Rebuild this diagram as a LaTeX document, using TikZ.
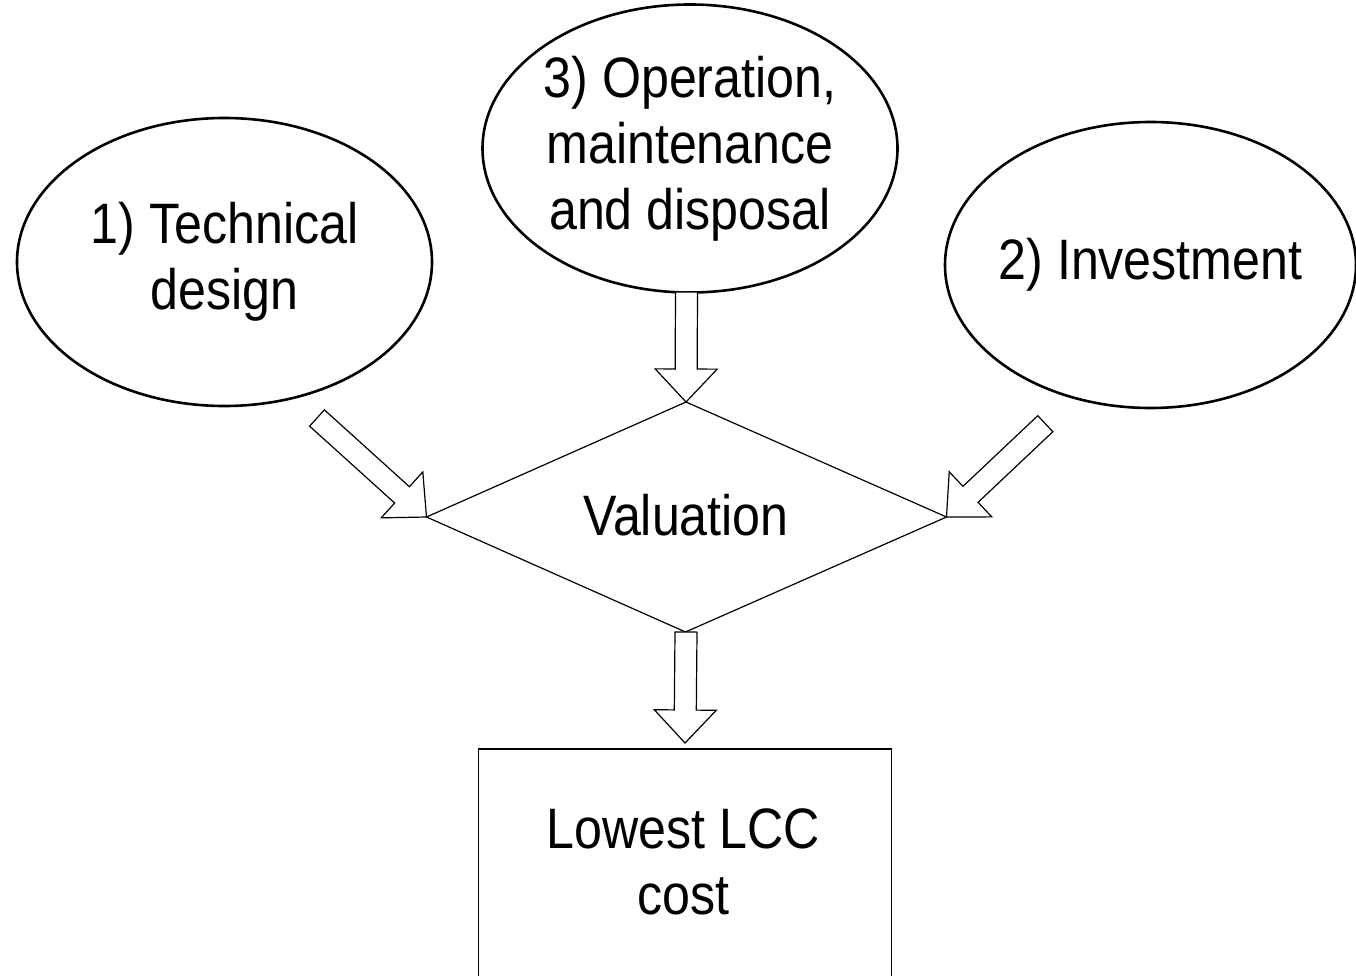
\documentclass[tikz,border=0pt]{standalone}
\usepackage{fontspec}
\setmainfont{Liberation Sans}[FakeStretch=0.88]
\usetikzlibrary{shapes.geometric,calc}
\tikzset{
  oval/.style={ellipse,draw,line width=2.6pt,minimum width=415pt,minimum height=288pt,inner sep=0pt},
  txt/.style={align=center,inner sep=0pt,font=\fontsize{57}{66}\selectfont},
  thin/.style={draw,line width=1.2pt},
  blk/.style={draw,line width=1.2pt,line join=miter,fill=white}
}
\newcommand{\blockarrow}[2]{%
  \coordinate (#1h) at ($(#2)!33pt!(#1)$);
  \draw[blk] ($(#1)!11pt!90:(#2)$) -- ($(#1h)!11pt!-90:(#1)$) -- ($(#1h)!31pt!-90:(#1)$) -- (#2)
    -- ($(#1h)!31pt!90:(#1)$) -- ($(#1h)!11pt!90:(#1)$) -- ($(#1)!11pt!-90:(#2)$) -- cycle;}
\begin{document}
\begin{tikzpicture}[x=1pt,y=-1pt]
\useasboundingbox (0,0) rectangle (1356,976);
\clip (0,0) rectangle (1356,976);
% ellipses
\node[oval] (tech) at (224.5,262) {};
\node[txt] (techt) at (224.5,262) {1) Technical\\design};
\node[oval] (oper) at (690,148.5) {};
\node[txt] (opert) at (690,148.5) {3) Operation,\\maintenance\\and disposal};
\node[oval,minimum width=411pt,minimum height=286pt] (inv) at (1150.5,265) {};
\node[txt] (invt) at (1150.5,265) {2) Investment};
% diamond
\coordinate (dT) at (686,402);
\coordinate (dL) at (426.5,517);
\coordinate (dR) at (946.5,517);
\coordinate (dB) at (685.5,632);
\draw[thin] (dT) -- (dR) -- (dB) -- (dL) -- cycle;
\node[txt] (val) at (686,515) {Valuation};
% box
\node[draw,line width=1.5pt,minimum width=413pt,minimum height=236pt,inner sep=0pt,anchor=north west] (box) at (477.5,748) {};
\node[txt] (low) at (683.5,862) {Lowest LCC\\cost};
% arrow tails and tips
\coordinate (a3) at (686.5,292);
\coordinate (a1) at (317,418);
\coordinate (a2) at (1045.3,423.7);
\coordinate (a4) at (686,632);
\coordinate (a4t) at (685,743);
\blockarrow{a3}{dT}
\blockarrow{a1}{dL}
\blockarrow{a2}{dR}
\blockarrow{a4}{a4t}
\end{tikzpicture}
\end{document}
